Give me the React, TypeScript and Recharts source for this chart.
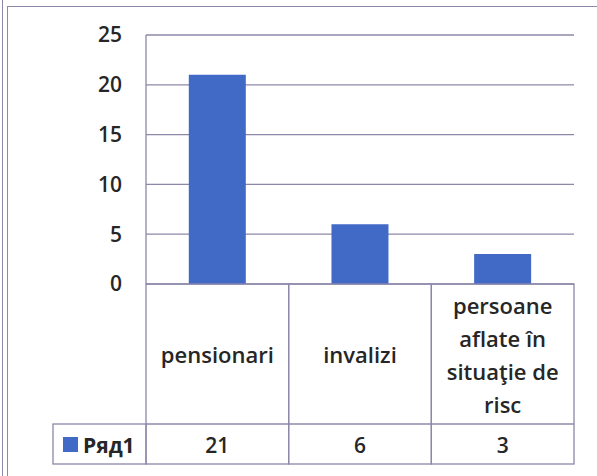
import { BarChart, Bar, XAxis, YAxis, CartesianGrid } from 'recharts';

// categories and series values
const categories = ['pensionari', 'invalizi', 'persoane aflate în situaţie de risc'];
const categoryLines = [['pensionari'], ['invalizi'], ['persoane', 'aflate în', 'situaţie de', 'risc']];
const seriesName = 'Ряд1';
const seriesValues = [21, 6, 3];
const yTicks = [0, 5, 10, 15, 20, 25];

const data = categories.map((name, i) => ({ name, value: seriesValues[i] }));

const BAR = '#4169c6';
const LINE = '#8d88aa';
const TEXT = '#262626';
const FONT = '"Open Sans", "Noto Sans", sans-serif';

const CAT_ROW = 140; // height of the category row of the data table
const VAL_ROW = 40; // height of the value row
const LEGEND_W = 93;

// x-axis tick that draws one column of the data table under the plot
function TableTick(props: any) {
  const { x, y, index, width, visibleTicksCount } = props;
  const w = width / visibleTicksCount;
  const left = x - w / 2;
  const lines = categoryLines[index] || [];
  const lh = 33;
  const mid = y + CAT_ROW / 2;
  const start = mid - ((lines.length - 1) * lh) / 2;
  return (
    <g>
      <rect x={left} y={y} width={w} height={CAT_ROW + VAL_ROW} fill="none" stroke={LINE} strokeWidth={1.3} />
      <line x1={left} y1={y + CAT_ROW} x2={left + w} y2={y + CAT_ROW} stroke={LINE} strokeWidth={1.3} />
      {lines.map((t: string, i: number) => (
        <text key={i} x={x} y={start + i * lh} textAnchor="middle" dominantBaseline="central"
          fontFamily={FONT} fontSize={22} fontWeight={600} fill={TEXT}>{t}</text>
      ))}
      <text x={x} y={y + CAT_ROW + VAL_ROW / 2 + 1} textAnchor="middle" dominantBaseline="central"
        fontFamily={FONT} fontSize={21} fontWeight={600} fill={TEXT}>{seriesValues[index]}</text>
      {index === 0 && (
        <g>
          <rect x={left - LEGEND_W} y={y + CAT_ROW} width={LEGEND_W} height={VAL_ROW} fill="none" stroke={LINE} strokeWidth={1.3} />
          <rect x={left - LEGEND_W + 10} y={y + CAT_ROW + 13} width={15} height={15} fill={BAR} />
          <text x={left - LEGEND_W + 30} y={y + CAT_ROW + VAL_ROW / 2 + 1} dominantBaseline="central"
            fontFamily={FONT} fontSize={21} fontWeight={700} fill={TEXT}>{seriesName}</text>
        </g>
      )}
    </g>
  );
}

export default function App() {
  return (
    <div style={{ position: 'absolute', left: 0, top: 0, width: 597, height: 476, background: '#fff' }}>
      {/* frame of the scanned page */}
      <div style={{ position: 'absolute', left: 2, top: 0, width: 1, height: 476, background: LINE }} />
      <div style={{ position: 'absolute', left: 7, top: 6, width: 1, height: 470, background: LINE }} />
      <div style={{ position: 'absolute', left: 7, top: 6, width: 590, height: 1, background: LINE }} />
      <BarChart
        width={597}
        height={476}
        data={data}
        margin={{ top: 35, right: 23, bottom: 12, left: 86 }}
        barCategoryGap="30%"
      >
        <CartesianGrid horizontal vertical={false} stroke={LINE} strokeWidth={1.3} />
        <XAxis
          dataKey="name"
          height={CAT_ROW + VAL_ROW}
          axisLine={false}
          tickLine={false}
          tickSize={0}
          tickMargin={0}
          interval={0}
          tick={<TableTick />}
        />
        <YAxis
          width={60}
          domain={[0, 25]}
          ticks={yTicks}
          axisLine={{ stroke: LINE, strokeWidth: 1.3 }}
          tickLine={false}
          tickSize={0}
          tickMargin={24}
          tick={{ fontFamily: FONT, fontSize: 21, fontWeight: 600, fill: TEXT }}
        />
        <Bar dataKey="value" name={seriesName} fill={BAR} isAnimationActive={false} />
      </BarChart>
    </div>
  );
}
